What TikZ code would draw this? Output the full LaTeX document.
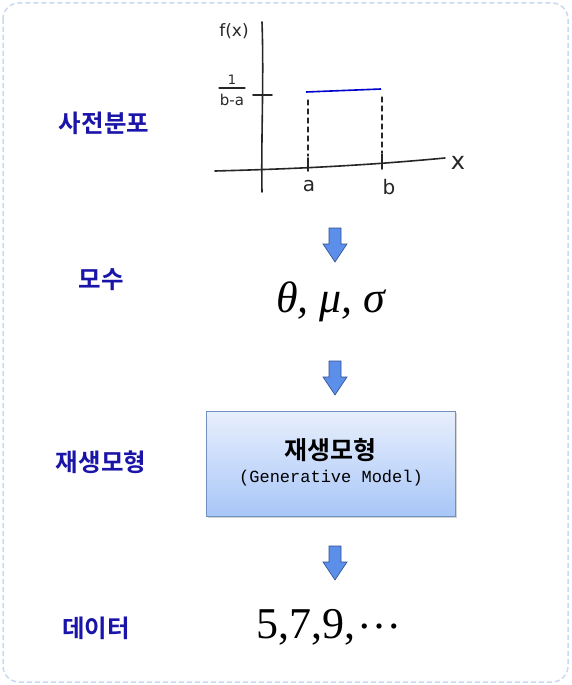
\documentclass[tikz,border=0pt]{standalone}
\usepackage{fontspec}
\setmainfont{Liberation Serif}
\newfontfamily\krb{Noto Sans CJK KR Bold}
\newfontfamily\hand{DejaVu Sans}
\newfontfamily\monof{Liberation Mono}
\usetikzlibrary{shadows}
\definecolor{lbl}{HTML}{1A14A8}
\definecolor{frame}{HTML}{C9DAF0}
\definecolor{arrfill}{HTML}{5C8FEA}
\definecolor{arrline}{HTML}{2F4F8F}
\definecolor{boxtop}{HTML}{E8EFFC}
\definecolor{boxbot}{HTML}{A8C6F8}
\definecolor{boxline}{HTML}{7090C0}
\tikzset{
  lab/.style={font=\krb\fontsize{24.5}{26}\selectfont, text=lbl},
  pen/.style={line width=1.6pt, line cap=round, black!85},
  handtxt/.style={font=\hand\fontsize{17}{17}\selectfont, text=black!85},
  bigarrow/.style={fill=arrfill, draw=arrline, line width=0.6pt, line join=miter},
}
\begin{document}
\begin{tikzpicture}[x=1pt,y=-1pt]
\useasboundingbox (0,0) rectangle (571,685);
% frame
\draw[frame, line width=1.5pt, dash pattern=on 5pt off 3pt, rounded corners=16pt] (3,3) rectangle (568,682);

% labels
\node[lab] (l1) at (104,123) {사전분포};
\node[lab] (l2) at (101,280) {모수};
\node[lab] (l3) at (101,462) {재생모형};
\node[lab] (l4) at (96,628) {데이터};

% graph
\draw[pen] (262,22) .. controls (264,80) and (261,140) .. (262,192);
\draw[pen] (215,171) .. controls (290,169) and (360,166) .. (445,158);
\draw[pen] (253,95) -- (272,95);
\draw[pen] (308,158) -- (308,171);
\draw[pen] (382,154) -- (382,169);
\draw[blue!80!black, line width=1.6pt] (306,92) -- (381,89);
\draw[pen, line width=1.2pt, dash pattern=on 5pt off 4pt] (308,100) -- (308,156);
\draw[pen, line width=1.2pt, dash pattern=on 5pt off 4pt] (382,97) -- (382,153);
\node[handtxt] (fx) at (234,31) {f(x)};
\node[handtxt, font=\hand\fontsize{13}{13}\selectfont] (num) at (232,80) {1};
\draw[pen, line width=1.3pt] (219,88) -- (245,88);
\node[handtxt, font=\hand\fontsize{15}{15}\selectfont] (den) at (232,100) {b-a};
\node[handtxt, font=\hand\fontsize{20}{20}\selectfont] (ta) at (309,186) {a};
\node[handtxt, font=\hand\fontsize{20}{20}\selectfont] (tb) at (389,187) {b};
\node[handtxt, font=\hand\fontsize{24}{24}\selectfont] (tx) at (458,163) {x};

% arrows
\foreach \yy in {228,361,546}{
  \draw[bigarrow] (329,\yy) -- (341,\yy) -- (341,\yy+16) -- (347,\yy+16) -- (335,\yy+34) -- (323,\yy+16) -- (329,\yy+16) -- cycle;
}

% parameters
\node[font=\fontsize{44}{44}\selectfont] (par) at (331,302) {\itshape θ, μ, σ};

% box
\node[draw=boxline, line width=0.8pt, top color=boxtop, bottom color=boxbot,
      minimum width=249pt, minimum height=105pt, drop shadow={shadow xshift=1.5pt, shadow yshift=-1.5pt, opacity=0.35}] (box) at (330.5,463.5) {};
\node[font=\krb\fontsize{25}{26}\selectfont] (bt) at (330,450) {재생모형};
\node[font=\monof\fontsize{17}{18}\selectfont] (bs) at (331,478) {(Generative Model)};

% data
\node[font=\fontsize{44}{44}\selectfont] (data) at (329,627) {5,7,9,\kern2pt\raisebox{0.23em}{…}};
\end{tikzpicture}
\end{document}
